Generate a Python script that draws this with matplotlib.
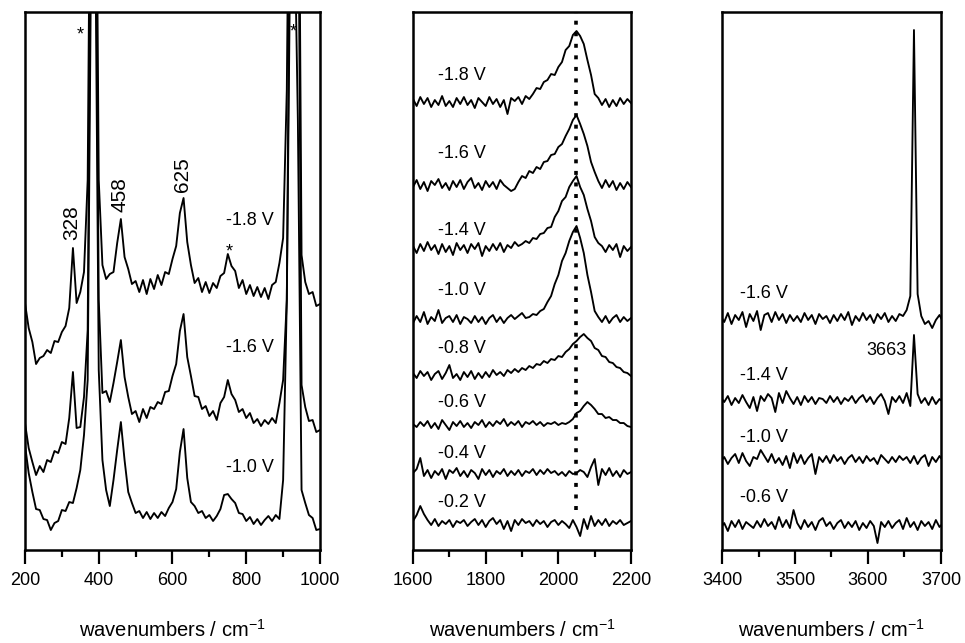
import numpy as np
import matplotlib.pyplot as plt
from matplotlib.ticker import MultipleLocator

plt.rcParams['font.family'] = ['Liberation Sans', 'DejaVu Sans']
plt.rcParams['mathtext.default'] = 'regular'

# ---------------- data (intensity in a.u., relative to each trace's baseline) ----------------

# panel 1: low-frequency region, 200-1000 cm-1, every 10 cm-1
wn_low = np.arange(200, 1001, 10)
low_labels = ['-1.8 V', '-1.6 V', '-1.0 V']
low_offsets = [260, 135, 30]
low_m18 = [-13, -38, -52, -74, -68, -66, -60, -63, -51, -52,
           -42, -36, -18, 42, -13, -2, 18, 110, 600, 620,
           110, 25, 11, 16, 18, 47, 71, 33, 21, 6,
           9, -2, 10, -4, 11, 1, 15, 5, 18, 16,
           31, 44, 77, 92, 48, 25, 7, 12, -2, 8,
           -3, 7, 2, 14, 17, 36, 24, 19, 2, 10,
           -4, 5, -6, 3, -7, 2, -9, 5, 8, 27,
           52, 200, 600, 620, 600, 35, 8, -4, -2, -16,
           -14]
low_m16 = [-8, -33, -47, -60, -51, -57, -45, -47, -36, -38,
           -27, -29, -3, 43, -13, -12, 18, 85, 600, 620,
           115, 22, 24, 13, 32, 53, 75, 38, 18, 1,
           4, -7, 6, -3, 8, 6, 13, 11, 23, 24,
           39, 51, 84, 101, 58, 39, 19, 18, 6, 9,
           -1, 4, -5, 12, 18, 35, 21, 15, 3, 6,
           -3, 2, -8, -4, -11, -5, -9, -3, -8, 12,
           35, 115, 600, 620, 600, 30, 8, -6, -5, -17,
           -15]
low_m10 = [75, 47, 28, 11, 10, 1, 0, -10, -3, -1,
           10, 9, 18, 17, 32, 50, 85, 140, 600, 620,
           150, 60, 30, 14, 40, 70, 98, 60, 28, 17,
           7, 9, 2, 8, 1, 7, 2, 8, 4, 12,
           18, 31, 68, 91, 42, 18, 14, 7, 9, 2,
           5, -1, 4, 11, 25, 26, 21, 17, 7, 6,
           -1, 3, -4, 1, -5, 0, 4, -1, 5, 1,
           40, 220, 600, 620, 400, 30, 17, 5, 2, -10,
           -9]
low_series = [low_m18, low_m16, low_m10]

# panel 2: 1600-2200 cm-1, every 10 cm-1
wn_mid = np.arange(1600, 2201, 10)
mid_labels = ['-1.8 V', '-1.6 V', '-1.4 V', '-1.0 V', '-0.8 V', '-0.6 V', '-0.4 V', '-0.2 V']
mid_offsets = [448, 365, 302, 230, 175, 125, 77, 27]
mid_m18 = [3, -4, 5, -2, 4, -5, 2, -3, 6, -4, 1, -5, 4, -2, 5, -3, 2, -6, 4, 0,
           -4, 5, -2, 3, -5, 2, -12, 4, 1, 5, -2, 6, 3, 8, 14, 13, 20, 22, 28, 27,
           35, 40, 52, 56, 67, 71, 66, 58, 42, 27, 8, 4, -3, 3, -5, 2, -4, 4, -2, 3,
           -1]
mid_m16 = [-2, 5, -4, 3, -6, 4, 0, 6, -3, 2, -5, 4, -2, 5, -4, 3, 7, -3, 2, -5,
           4, -2, 3, -4, 5, 0, -3, -6, -4, 3, 9, 7, 14, 12, 18, 16, 23, 24, 30, 31,
           38, 41, 49, 56, 65, 70, 61, 51, 39, 23, 13, 4, -3, 5, -2, 4, -5, 2, -4, 3,
           -2]
mid_m14 = [2, -5, 4, -3, 6, -2, 3, -6, 4, -4, 2, -7, 5, -2, 3, -5, 4, -1, 5, -8,
           2, -3, 4, -2, 5, -4, 3, 0, 6, 2, 4, 7, 5, 10, 9, 14, 15, 20, 21, 31,
           37, 47, 51, 61, 67, 72, 61, 53, 39, 27, 11, 5, 2, -4, 3, -2, 4, -9, 2, -3,
           1]
mid_m10 = [-3, 4, -2, 8, -4, 3, -1, 10, -3, 2, 4, -2, 5, -4, 3, 1, -3, 4, -2, 3,
           -4, 2, 5, -2, 3, -3, 2, 5, 1, 4, 7, 2, 3, 6, 5, 9, 11, 18, 24, 36,
           45, 59, 67, 79, 88, 94, 82, 67, 45, 28, 9, 3, -2, 4, -3, 2, 5, -2, 3, -1,
           2]
mid_m08 = [2, -3, 4, -1, 3, -5, 1, 4, -4, 2, 10, -3, 1, -5, 3, -2, 4, -4, 2, -3,
           3, -2, 5, 0, 3, -1, 5, 2, 6, 3, 7, 5, 9, 7, 11, 10, 14, 12, 16, 15,
           19, 18, 23, 26, 31, 34, 38, 41, 37, 34, 27, 25, 19, 18, 13, 12, 8, 7, 3, 2,
           -1]
mid_m06 = [1, -2, 3, -1, 4, -3, 2, -4, 5, 0, -5, 3, -1, 4, -2, 2, -3, 3, 0, 5,
           -2, 3, -1, 4, 1, 6, -1, 3, 0, 4, -2, 3, 1, 4, 0, 3, -1, 2, 1, 3,
           0, 2, 1, 3, 6, 12, 14, 19, 23, 20, 16, 11, 11, 7, 8, 5, 5, 2, 2, -1,
           -2]
mid_m04 = [0, 4, 15, -3, 3, -5, 2, -2, 4, -6, 3, 0, 5, -3, 2, -4, 3, 0, -6, 4,
           -2, 3, -4, 2, -1, 4, -3, 2, -2, 3, -3, 2, 0, 4, -2, 3, -1, 4, 0, 2,
           -2, 1, -3, 2, -1, 0, 3, 1, -4, 6, 14, -12, 4, -2, 5, -3, 2, -4, 3, -1,
           1]
mid_m02 = [2, 8, 17, 9, 3, -2, 4, -3, 2, -1, 3, -4, 2, 0, 3, -3, 1, 4, -2, 3,
           -4, 2, 5, -1, 3, -6, 2, -8, 3, -2, 4, 0, 2, -3, 3, -1, 2, -4, 1, 3,
           -2, 2, -1, -5, 3, -4, -13, 4, -6, 7, -3, 3, -2, 4, -3, 2, -1, 3, -2, 0,
           2]
mid_series = [mid_m18, mid_m16, mid_m14, mid_m10, mid_m08, mid_m06, mid_m04, mid_m02]
mid_marker_wn = 2048

# panel 3: 3400-3700 cm-1, every 5 cm-1
wn_high = np.arange(3398, 3704, 5)
high_labels = ['-1.6 V', '-1.4 V', '-1.0 V', '-0.6 V']
high_offsets = [232, 150, 90, 25]
high_m16 = [2, -4, 5, -6, 3, -2, 6, -9, 4, -3, 7, -12, 3, 5, -4, 6, -2, 4, -5, 3,
            -3, 2, -4, 5, -2, 3, -6, 4, -1, 2, -5, 3, -3, 4, -2, 6, -7, 2, -3, 5,
            -2, 3, -5, 4, -1, 5, -4, 2, -3, 4, 2, 8, 22, 288, 24, 2, -6, -3, -10, -2,
            3, -4]
high_m14 = [3, -2, 4, -5, 2, -3, 5, -2, -8, 3, -11, 4, -1, 6, 2, -12, 7, -3, 9, 2,
            -4, 3, -5, 4, -2, 3, -4, 2, 1, -3, 4, -2, 3, -4, 2, -1, 4, -3, 2, 5,
            -2, 3, -4, 2, 6, -1, -14, 3, -2, 4, -3, 7, -6, 65, 6, -3, 2, -5, 3, -4,
            1, -2]
high_m10 = [-2, 3, -4, 2, 6, -3, 7, -1, -6, 3, 1, 10, 4, -2, 6, -3, 2, -5, 4, -8,
            7, -3, 5, -4, 2, 6, -14, 3, -2, 4, -3, 5, -1, 3, -4, 2, 5, -2, 3, -3,
            4, -1, 2, -4, 5, 1, -3, 3, -2, 4, 0, 3, -3, 4, -4, 2, 5, -6, 3, -2,
            4, -1]
high_m06 = [-3, 2, -6, 4, -2, 5, -4, 3, 0, -3, 4, -2, 6, -1, 3, -4, 8, -2, 5, -3,
            15, 2, -4, 5, -2, 3, -5, 4, 7, -1, 3, -4, 2, 5, -3, 3, -2, 4, -5, 2,
            -3, 4, -1, -18, 3, -2, 4, -3, 2, 5, -4, 7, -2, 3, -5, 4, -1, 3, -4, 5,
            -2, 2]
high_series = [high_m16, high_m14, high_m10, high_m06]

# ---------------- figure ----------------
fig = plt.figure(figsize=(9.65, 6.43), dpi=100)
H = 538
ax1 = fig.add_axes([0.0259, 0.1446, 0.3057, 0.8367])
ax2 = fig.add_axes([0.4280, 0.1446, 0.2259, 0.8367])
ax3 = fig.add_axes([0.7482, 0.1446, 0.2269, 0.8367])

lw = 1.35
for s, off in zip(low_series, low_offsets):
    ax1.plot(wn_low, np.array(s) + off, color='black', lw=lw)
for s, off in zip(mid_series, mid_offsets):
    ax2.plot(wn_mid, np.array(s) + off, color='black', lw=lw)
for s, off in zip(high_series, high_offsets):
    ax3.plot(wn_high, np.array(s) + off, color='black', lw=lw)

ax2.axvline(mid_marker_wn, ymin=40 / H, ymax=1, color='black', lw=2.6,
            linestyle=(0, (1.1, 2.1)))

setup = [(ax1, (200, 1000), 200, 100),
         (ax2, (1600, 2200), 200, 100),
         (ax3, (3400, 3700), 100, 50)]
for ax, xl, maj, mnr in setup:
    ax.set_xlim(*xl)
    ax.set_ylim(0, H)
    ax.set_yticks([])
    ax.xaxis.set_major_locator(MultipleLocator(maj))
    ax.xaxis.set_minor_locator(MultipleLocator(mnr))
    ax.tick_params(axis='x', which='major', direction='out', length=10, width=1.6,
                   labelsize=13, pad=6)
    ax.tick_params(axis='x', which='minor', direction='out', length=5, width=1.6)
    for sp in ax.spines.values():
        sp.set_linewidth(1.8)
    ax.set_xlabel('wavenumbers / cm$^{-1}$', fontsize=14.5, labelpad=21)

fs = 13
# panel 1 annotations
for lab, h in zip(low_labels, [330, 203, 83]):
    ax1.text(810, h, lab, fontsize=fs, ha='center', va='center')
for lab, wn, h in [('328', 327, 327), ('458', 458, 355), ('625', 626, 375)]:
    ax1.text(wn, h, lab, fontsize=15, rotation=90, ha='center', va='center')
for wn, h in [(349, 515), (927, 518), (753, 298)]:
    ax1.text(wn, h, '*', fontsize=fs, ha='center', va='center')

# panel 2 annotations
for lab, h in zip(mid_labels, [475, 397, 320, 260, 202, 148, 97, 48]):
    ax2.text(1735, h, lab, fontsize=fs, ha='center', va='center')

# panel 3 annotations
for lab, h in zip(high_labels, [257, 175, 113, 53]):
    ax3.text(3457, h, lab, fontsize=fs, ha='center', va='center')
ax3.text(3626, 200, '3663', fontsize=fs, ha='center', va='center')

fig.savefig('out.png', dpi=100)
